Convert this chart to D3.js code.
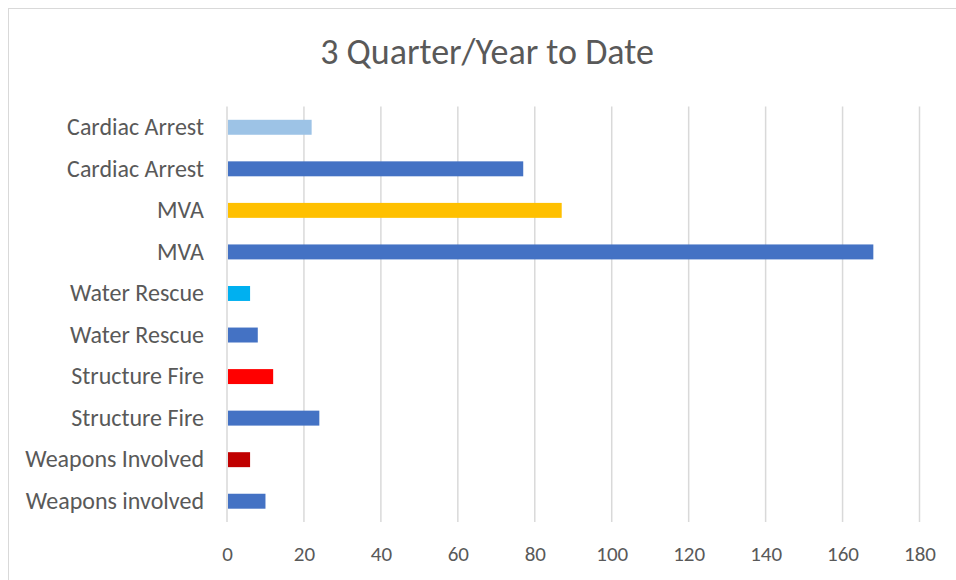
<!DOCTYPE html>
<html>
<head>
<meta charset="utf-8">
<script src="https://cdn.jsdelivr.net/npm/d3@7"></script>
<style>
body{margin:0;background:#fff;}
svg{display:block;font-family:Carlito,Lato,"Noto Sans",sans-serif;}
</style>
</head>
<body>
<svg id="graph"></svg>
<script>
// categories listed top to bottom as they appear
var categories=["Cardiac Arrest","Cardiac Arrest ","MVA","MVA ","Water Rescue","Water Rescue ","Structure Fire","Structure Fire ","Weapons Involved","Weapons involved"]
var counts=[22,77,87,168,6,8,12,24,6,10]
var barColors=["#9DC3E6","#4472C4","#FFC000","#4472C4","#00B0F0","#4472C4","#FF0000","#4472C4","#C00000","#4472C4"]
var xTicks=[0,20,40,60,80,100,120,140,160,180]
var title="3 Quarter/Year to Date"

var screen={width:956,height:580}
var plot={left:227,right:919.5,top:106.5,bottom:522}

var svg=d3.select("#graph")
    .attr("width",screen.width)
    .attr("height",screen.height)

// chart border
svg.append("rect")
    .attr("x",8.5).attr("y",8.5)
    .attr("width",screen.width)
    .attr("height",screen.height)
    .attr("fill","none")
    .attr("stroke","#d9d9d9")
    .attr("stroke-width",1)

svg.append("text")
    .attr("x",487)
    .attr("y",64)
    .attr("text-anchor","middle")
    .attr("fill","#595959")
    .style("font-size","36px")
    .text(title)

var xScale=d3.scaleLinear()
    .domain([0,180])
    .range([plot.left,plot.right])

var yScale=d3.scaleBand()
    .domain(categories)
    .range([plot.top,plot.bottom])
    .paddingInner(0.64)
    .paddingOuter(0.32)

// gridlines
svg.append("g")
    .selectAll("line")
    .data(xTicks)
    .enter()
    .append("line")
    .attr("x1",function(d){return xScale(d)})
    .attr("x2",function(d){return xScale(d)})
    .attr("y1",plot.top)
    .attr("y2",plot.bottom)
    .attr("stroke","#d9d9d9")
    .attr("stroke-width",1.5)

// bars
svg.append("g")
    .selectAll("rect")
    .data(counts)
    .enter()
    .append("rect")
    .attr("x",xScale(0)+1)
    .attr("y",function(d,i){return yScale(categories[i])})
    .attr("width",function(d){return xScale(d)-xScale(0)-1})
    .attr("height",yScale.bandwidth())
    .attr("fill",function(d,i){return barColors[i]})

// x axis labels
var xAxis=d3.axisBottom(xScale)
    .tickValues(xTicks)
    .tickSize(0)
    .tickPadding(24)
var gx=svg.append("g")
    .attr("transform","translate(0,"+plot.bottom+")")
    .call(xAxis)
gx.select(".domain").remove()
gx.selectAll("text")
    .attr("fill","#595959")
    .style("font-size","21px")
    .style("font-family","Carlito,Lato,'Noto Sans',sans-serif")

// y axis labels
var yAxis=d3.axisLeft(yScale)
    .tickSize(0)
    .tickPadding(23)
    .tickFormat(function(d){return d.trim()})
var gy=svg.append("g")
    .attr("transform","translate("+plot.left+",0)")
    .call(yAxis)
gy.select(".domain").remove()
gy.selectAll("text")
    .attr("fill","#595959")
    .style("font-size","24px")
    .style("font-family","Carlito,Lato,'Noto Sans',sans-serif")
</script>
</body>
</html>
